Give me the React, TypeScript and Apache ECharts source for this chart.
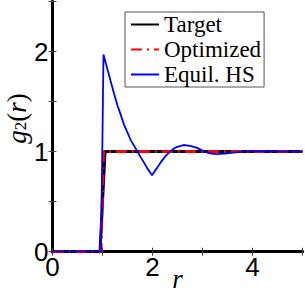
import React, { useEffect, useRef } from "react";
import * as echarts from "echarts";

const xTicks = [0, 1, 2, 3, 4, 5];
const yTicks = [0, 0.5, 1, 1.5, 2, 2.5];
const seriesNames = ["Target", "Optimized", "Equil. HS"];

const targetData: [number, number][] = [
  [0, 0], [0.95, 0], [1.05, 1], [5, 1],
];
const optimizedData: [number, number][] = [
  [0, 0], [0.97, 0], [1.02, 1.0], [2, 1.0], [3, 1.0], [4, 1.0], [5, 1.0],
];
const hsData: [number, number][] = [
  [0, 0], [0.97, 0], [1.02, 1.97], [1.1, 1.82], [1.17, 1.69], [1.23, 1.58],
  [1.3, 1.46], [1.37, 1.36], [1.43, 1.27], [1.5, 1.19], [1.56, 1.12],
  [1.63, 1.06], [1.7, 1.0], [1.77, 0.94], [1.83, 0.89], [1.9, 0.83],
  [1.99, 0.765], [2.08, 0.83], [2.16, 0.89], [2.26, 0.955], [2.36, 1.006],
  [2.48, 1.045], [2.62, 1.066], [2.75, 1.058], [2.88, 1.04], [2.98, 1.015],
  [3.08, 0.992], [3.18, 0.979], [3.28, 0.975], [3.45, 0.98], [3.61, 0.99],
  [3.78, 0.998], [3.94, 1.003], [4.2, 1.004], [4.6, 0.999], [5, 1.0],
];

export default function App() {
  const ref = useRef<HTMLDivElement>(null);
  useEffect(() => {
    if (!ref.current) return;
    const chart = echarts.init(ref.current, undefined, { renderer: "svg" });
    const axisLine = { show: true, lineStyle: { color: "#000", width: 3 } };
    const tick = { show: true, inside: true, length: 4, lineStyle: { color: "#444", width: 1 } };
    const labelFont = { fontFamily: "Liberation Sans", fontSize: 26, color: "#000" };
    chart.setOption({
      animation: false,
      backgroundColor: "#fff",
      grid: { left: 52.5, right: 2.5, top: 1.5, bottom: 41.3, containLabel: false, outerBoundsMode: "none" },
      legend: {
        orient: "vertical",
        left: 125,
        top: 12,
        data: seriesNames,
        itemGap: 0,
        itemWidth: 28,
        itemHeight: 25,
        padding: [0, 3, 0, 5],
        borderColor: "#555",
        borderWidth: 1,
        borderRadius: 0,
        backgroundColor: "#fff",
        itemStyle: { opacity: 0 },
        textStyle: { fontFamily: "Liberation Serif", fontSize: 23, color: "#000", lineHeight: 25 },
      },
      xAxis: [
        {
          type: "value", min: xTicks[0], max: xTicks[xTicks.length - 1], interval: 1,
          position: "bottom",
          axisLine, axisTick: tick, splitLine: { show: false },
          axisLabel: { ...labelFont, margin: 2, formatter: (v: number) => (v % 2 === 0 ? String(v) : "") },
          name: "r", nameLocation: "middle", nameGap: 14, nameMoveOverlap: false,
          nameTextStyle: { fontFamily: "Liberation Serif", fontStyle: "italic", fontSize: 27, lineHeight: 26, color: "#000" },
        },
        {
          type: "value", min: xTicks[0], max: xTicks[xTicks.length - 1], interval: 1,
          position: "top", axisLine, axisTick: tick, splitLine: { show: false },
          axisLabel: { show: false },
        },
      ],
      yAxis: [
        {
          type: "value", min: yTicks[0], max: yTicks[yTicks.length - 1], interval: 0.5,
          position: "left",
          axisLine, axisTick: tick, splitLine: { show: false },
          axisLabel: { ...labelFont, margin: 4, formatter: (v: number) => (Number.isInteger(v) && v < 2.5 ? String(v) : "") },
          name: "{a|g}{s|2}{b|(}{a|r}{b|)}", nameLocation: "middle", nameGap: 24, nameRotate: 90,
          nameMoveOverlap: false,
          nameTextStyle: {
            color: "#000",
            padding: [0, 0, 0, 16],
            rich: {
              a: { fontFamily: "Liberation Serif", fontStyle: "italic", fontSize: 27, lineHeight: 24, color: "#000" },
              b: { fontFamily: "Liberation Serif", fontSize: 27, lineHeight: 24, color: "#000" },
              s: { fontFamily: "Liberation Serif", fontSize: 17, lineHeight: 8, color: "#000", verticalAlign: "bottom" },
            },
          },
        },
        {
          type: "value", min: yTicks[0], max: yTicks[yTicks.length - 1], interval: 0.5,
          position: "right", axisLine, axisTick: tick, splitLine: { show: false },
          axisLabel: { show: false },
        },
      ],
      series: [
        {
          name: seriesNames[0], type: "line", data: targetData, symbol: "none",
          lineStyle: { color: "#000", width: 3 }, itemStyle: { color: "#000" },
        },
        {
          name: seriesNames[1], type: "line", data: optimizedData, symbol: "none",
          lineStyle: { color: "#ff0000", width: 3, type: [11, 5, 2, 5] }, itemStyle: { color: "#ff0000" },
        },
        {
          name: seriesNames[2], type: "line", data: hsData, symbol: "none",
          lineStyle: { color: "#0000ff", width: 1.8 }, itemStyle: { color: "#0000ff" },
        },
      ],
    });
    return () => chart.dispose();
  }, []);
  return (
    <div
      ref={ref}
      style={{ position: "fixed", left: 0, top: 0, width: 305, height: 293 }}
    />
  );
}
